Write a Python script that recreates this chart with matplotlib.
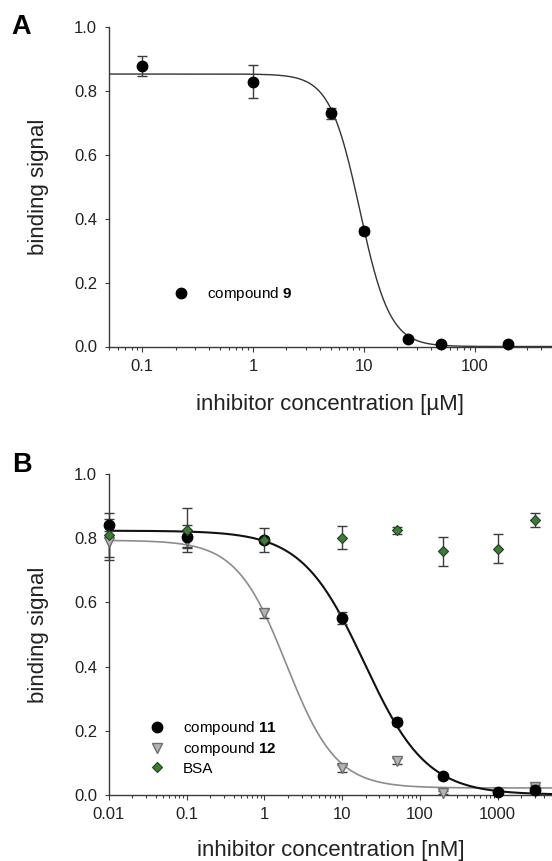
import numpy as np
import matplotlib.pyplot as plt
from matplotlib.ticker import LogLocator, FuncFormatter, MultipleLocator, NullFormatter

plt.rcParams['font.family'] = ['Liberation Sans', 'DejaVu Sans']
plt.rcParams['mathtext.fontset'] = 'custom'
plt.rcParams['mathtext.rm'] = 'Liberation Sans'
plt.rcParams['mathtext.bf'] = 'Liberation Sans:bold'

# --- panel A: compound 9, concentrations in µM ---
conc_9 = [0.1, 1, 5, 10, 25, 50, 200]
signal_9 = [0.877, 0.828, 0.729, 0.362, 0.023, 0.007, 0.008]
err_9 = [0.030, 0.051, 0.018, 0.010, 0.006, 0.004, 0.004]
fit_9 = (0.852, 0.0, 9.2, 3.2)        # top, bottom, IC50, hill

# --- panel B: concentrations in nM ---
conc_11 = [0.01, 0.1, 1, 10, 50, 200, 1000, 3000]
signal_11 = [0.842, 0.805, 0.795, 0.551, 0.228, 0.058, 0.009, 0.015]
err_11 = [0.020, 0.036, 0.037, 0.018, 0.010, 0.008, 0.006, 0.008]
fit_11 = (0.824, 0.0, 19.2, 1.08)

conc_12 = [0.01, 0.1, 1, 10, 50, 200, 3000]
signal_12 = [0.790, 0.793, 0.566, 0.082, 0.105, 0.006, 0.024]
err_12 = [0.057, 0.020, 0.015, 0.012, 0.008, 0.005, 0.006]
fit_12 = (0.794, 0.021, 1.91, 1.35)

conc_bsa = [0.01, 0.1, 1, 10, 50, 200, 1000, 3000]
signal_bsa = [0.811, 0.826, 0.795, 0.802, 0.826, 0.760, 0.768, 0.857]
err_bsa = [0.068, 0.070, 0.010, 0.036, 0.011, 0.045, 0.045, 0.021]


def logistic(x, top, bottom, ic50, hill):
    return bottom + (top - bottom) / (1 + (x / ic50) ** hill)


W, H = 552, 861
fig = plt.figure(figsize=(W / 100, H / 100), dpi=100)
ax_a = fig.add_axes([109 / W, (H - 346.5) / H, (W - 109) / W, 319.8 / H])
ax_b = fig.add_axes([109 / W, (H - 794.7) / H, (W - 109) / W, 320.4 / H])

axis_col = '#3a3a3a'
err_col = '#3c3c3c'


def style_axis(ax, xlim, xlabel):
    ax.set_xscale('log')
    ax.set_xlim(*xlim)
    ax.set_ylim(0, 1.0)
    ax.spines['top'].set_visible(False)
    ax.spines['right'].set_visible(False)
    for s in ('left', 'bottom'):
        ax.spines[s].set_color(axis_col)
        ax.spines[s].set_linewidth(1.0)
    ax.yaxis.set_major_locator(MultipleLocator(0.2))
    ax.yaxis.set_major_formatter(FuncFormatter(lambda v, p: f'{v:.1f}'))
    ax.xaxis.set_major_locator(LogLocator(base=10))
    ax.xaxis.set_minor_locator(LogLocator(base=10, subs=np.arange(2, 10)))
    ax.xaxis.set_major_formatter(FuncFormatter(lambda v, p: f'{v:g}'))
    ax.xaxis.set_minor_formatter(NullFormatter())
    ax.tick_params(axis='y', which='major', direction='out', length=3,
                   width=0.8, color=axis_col, labelsize=12, pad=5.5,
                   labelcolor='#222222')
    ax.tick_params(axis='x', which='major', direction='out', length=3.5,
                   width=0.8, color=axis_col, labelsize=12, pad=5.5,
                   labelcolor='#222222')
    ax.tick_params(axis='x', which='minor', direction='out', length=2,
                   width=0.8, color=axis_col)
    ax.set_ylabel('binding signal', fontsize=16, color='#222222')
    ax.set_xlabel(xlabel, fontsize=16, color='#222222')
    ax.yaxis.set_label_coords(-0.135, 0.5)


# ---------------- panel A ----------------
style_axis(ax_a, (0.05, 500), 'inhibitor concentration [µM]')
ax_a.xaxis.set_label_coords(0.5, -0.149)

xa = np.logspace(np.log10(0.05), np.log10(500), 400)
ax_a.plot(xa, logistic(xa, *fit_9), color='#333333', lw=1.0, zorder=2)
ax_a.errorbar(conc_9, signal_9, yerr=err_9, fmt='none', ecolor=err_col,
              elinewidth=1.0, capsize=3.8, capthick=1.0, zorder=3, clip_on=False)
h9, = ax_a.plot(conc_9, signal_9, 'o', ms=7.5, mfc='black', mec='black',
                ls='none', zorder=4, clip_on=False)
ax_a.legend([h9], ['compound $\\mathbf{9}$'], loc='center left',
            bbox_to_anchor=(173.4 / W, 1 - 294 / H), bbox_transform=fig.transFigure,
            frameon=False, fontsize=11, handlelength=1.0, handletextpad=1.2,
            borderpad=0, borderaxespad=0, numpoints=1)

# ---------------- panel B ----------------
style_axis(ax_b, (0.01, 5000), 'inhibitor concentration [nM]')
ax_b.xaxis.set_label_coords(0.5, -0.141)

xb = np.logspace(np.log10(0.01), np.log10(5000), 400)
ax_b.plot(xb, logistic(xb, *fit_12), color='#8c8c8c', lw=1.2, zorder=2)
ax_b.plot(xb, logistic(xb, *fit_11), color='#111111', lw=1.5, zorder=2)

for c, s, e in ((conc_12, signal_12, err_12), (conc_11, signal_11, err_11),
                (conc_bsa, signal_bsa, err_bsa)):
    ax_b.errorbar(c, s, yerr=e, fmt='none', ecolor=err_col, elinewidth=1.0,
                  capsize=3.8, capthick=1.0, zorder=3, clip_on=False)

h12, = ax_b.plot(conc_12, signal_12, 'v', ms=7, mfc='#b4b4b4', mec='#6e6e6e',
                 mew=1.0, ls='none', zorder=4, clip_on=False)
h11, = ax_b.plot(conc_11, signal_11, 'o', ms=7.5, mfc='black', mec='black',
                 ls='none', zorder=5, clip_on=False)
hbsa, = ax_b.plot(conc_bsa, signal_bsa, 'D', ms=5.5, mfc='#3f7c37', mec='#1f3f1f',
                  mew=0.8, ls='none', zorder=6, clip_on=False)
ax_b.legend([h11, h12, hbsa],
            ['compound $\\mathbf{11}$', 'compound $\\mathbf{12}$', 'BSA'],
            loc='center left', bbox_to_anchor=(149.1 / W, 1 - 747.5 / H),
            bbox_transform=fig.transFigure, frameon=False, fontsize=11,
            handlelength=1.0, handletextpad=1.2, labelspacing=0.2,
            borderpad=0, borderaxespad=0, numpoints=1)

# panel letters
fig.text(20.8 / W, 1 - 34.3 / H, 'A', fontsize=19.5, fontweight='bold',
         ha='center', va='baseline')
fig.text(22 / W, 1 - 472.3 / H, 'B', fontsize=19.5, fontweight='bold',
         ha='center', va='baseline')

fig.savefig('out.png', dpi=100)
